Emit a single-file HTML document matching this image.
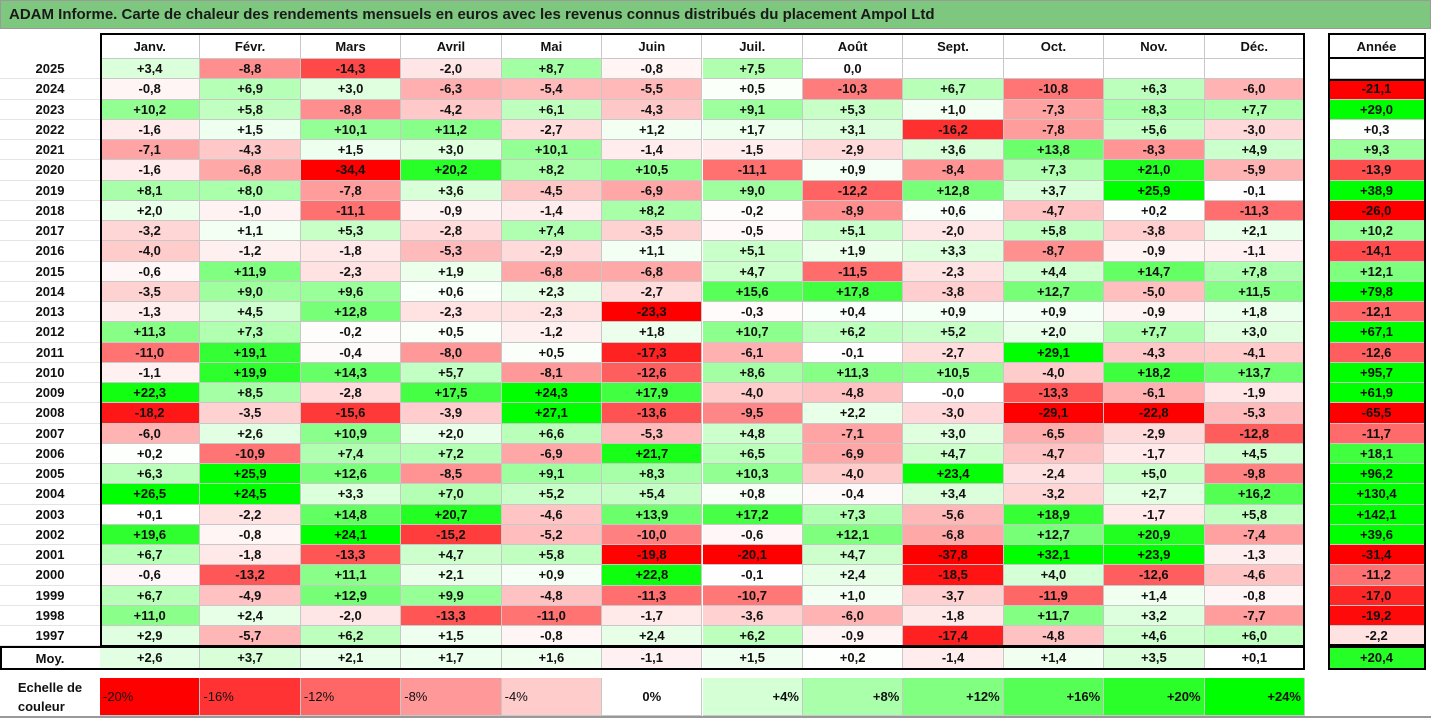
<!DOCTYPE html>
<html><head><meta charset="utf-8">
<style>
body{margin:0;width:1431px;height:718px;background:#fff;position:relative;overflow:hidden;font-family:"Liberation Sans",sans-serif;}
.a{position:absolute;box-sizing:border-box;}
.c{display:flex;align-items:center;justify-content:center;font-weight:bold;font-size:13px;color:#111;border-right:1px solid #c8c8c8;border-bottom:1px solid #c8c8c8;}
</style></head><body>
<div class="a" style="left:0;top:0;width:1431px;height:29px;background:#7dc77e;border:1px solid #9a9a9a;font-weight:bold;font-size:15px;color:#1a1a1a;padding:5px 0 0 8px;">ADAM Informe. Carte de chaleur des rendements mensuels en euros avec les revenus connus distribués du placement Ampol Ltd</div>
<div id="root"></div>
<script>
const months=["Janv.","Févr.","Mars","Avril","Mai","Juin","Juil.","Août","Sept.","Oct.","Nov.","Déc."];
const years=["2025","2024","2023","2022","2021","2020","2019","2018","2017","2016","2015","2014","2013","2012","2011","2010","2009","2008","2007","2006","2005","2004","2003","2002","2001","2000","1999","1998","1997"];
const monthly=[
[3.4,-8.8,-14.3,-2.0,8.7,-0.8,7.5,0.0,null,null,null,null],
[-0.8,6.9,3.0,-6.3,-5.4,-5.5,0.5,-10.3,6.7,-10.8,6.3,-6.0],
[10.2,5.8,-8.8,-4.2,6.1,-4.3,9.1,5.3,1.0,-7.3,8.3,7.7],
[-1.6,1.5,10.1,11.2,-2.7,1.2,1.7,3.1,-16.2,-7.8,5.6,-3.0],
[-7.1,-4.3,1.5,3.0,10.1,-1.4,-1.5,-2.9,3.6,13.8,-8.3,4.9],
[-1.6,-6.8,-34.4,20.2,8.2,10.5,-11.1,0.9,-8.4,7.3,21.0,-5.9],
[8.1,8.0,-7.8,3.6,-4.5,-6.9,9.0,-12.2,12.8,3.7,25.9,-0.1],
[2.0,-1.0,-11.1,-0.9,-1.4,8.2,-0.2,-8.9,0.6,-4.7,0.2,-11.3],
[-3.2,1.1,5.3,-2.8,7.4,-3.5,-0.5,5.1,-2.0,5.8,-3.8,2.1],
[-4.0,-1.2,-1.8,-5.3,-2.9,1.1,5.1,1.9,3.3,-8.7,-0.9,-1.1],
[-0.6,11.9,-2.3,1.9,-6.8,-6.8,4.7,-11.5,-2.3,4.4,14.7,7.8],
[-3.5,9.0,9.6,0.6,2.3,-2.7,15.6,17.8,-3.8,12.7,-5.0,11.5],
[-1.3,4.5,12.8,-2.3,-2.3,-23.3,-0.3,0.4,0.9,0.9,-0.9,1.8],
[11.3,7.3,-0.2,0.5,-1.2,1.8,10.7,6.2,5.2,2.0,7.7,3.0],
[-11.0,19.1,-0.4,-8.0,0.5,-17.3,-6.1,-0.1,-2.7,29.1,-4.3,-4.1],
[-1.1,19.9,14.3,5.7,-8.1,-12.6,8.6,11.3,10.5,-4.0,18.2,13.7],
[22.3,8.5,-2.8,17.5,24.3,17.9,-4.0,-4.8,-0.0,-13.3,-6.1,-1.9],
[-18.2,-3.5,-15.6,-3.9,27.1,-13.6,-9.5,2.2,-3.0,-29.1,-22.8,-5.3],
[-6.0,2.6,10.9,2.0,6.6,-5.3,4.8,-7.1,3.0,-6.5,-2.9,-12.8],
[0.2,-10.9,7.4,7.2,-6.9,21.7,6.5,-6.9,4.7,-4.7,-1.7,4.5],
[6.3,25.9,12.6,-8.5,9.1,8.3,10.3,-4.0,23.4,-2.4,5.0,-9.8],
[26.5,24.5,3.3,7.0,5.2,5.4,0.8,-0.4,3.4,-3.2,2.7,16.2],
[0.1,-2.2,14.8,20.7,-4.6,13.9,17.2,7.3,-5.6,18.9,-1.7,5.8],
[19.6,-0.8,24.1,-15.2,-5.2,-10.0,-0.6,12.1,-6.8,12.7,20.9,-7.4],
[6.7,-1.8,-13.3,4.7,5.8,-19.8,-20.1,4.7,-37.8,32.1,23.9,-1.3],
[-0.6,-13.2,11.1,2.1,0.9,22.8,-0.1,2.4,-18.5,4.0,-12.6,-4.6],
[6.7,-4.9,12.9,9.9,-4.8,-11.3,-10.7,1.0,-3.7,-11.9,1.4,-0.8],
[11.0,2.4,-2.0,-13.3,-11.0,-1.7,-3.6,-6.0,-1.8,11.7,3.2,-7.7],
[2.9,-5.7,6.2,1.5,-0.8,2.4,6.2,-0.9,-17.4,-4.8,4.6,6.0]];
const annual=[null,-21.1,29.0,0.3,9.3,-13.9,38.9,-26.0,10.2,-14.1,12.1,79.8,-12.1,67.1,-12.6,95.7,61.9,-65.5,-11.7,18.1,96.2,130.4,142.1,39.6,-31.4,-11.2,-17.0,-19.2,-2.2];
const averages=[2.6,3.7,2.1,1.7,1.6,-1.1,1.5,0.2,-1.4,1.4,3.5,0.1];
const averageYear=20.4;
const scaleLabels=["-20%","-16%","-12%","-8%","-4%","0%","+4%","+8%","+12%","+16%","+20%","+24%"];
const scaleValues=[-20,-16,-12,-8,-4,0,4,8,12,16,20,24];

const X0=100,CW=(1305-100)/12,ROW0=59,RH=20.25,AX=1328,AW=98;
const colX=i=>X0+i*CW, rowY=r=>ROW0+r*RH;
function color(v){
  if(v===null)return '#fff';
  if(v<0){const t=Math.min(1,-v/20);const g=Math.round(255*(1-t));return `rgb(255,${g},${g})`;}
  const t=Math.min(1,v/24);const g=Math.round(255*(1-t));return `rgb(${g},255,${g})`;
}
function fmt(v){if(v===null)return '';const s=Math.abs(v).toFixed(1).replace('.',',');
  if(v>0)return '+'+s; if(v<0||Object.is(v,-0))return '-'+s; return s;}
const root=document.getElementById('root');
function box(x,y,w,h,cls,style,txt){const d=document.createElement('div');d.className='a '+(cls||'');
  d.style.cssText=`left:${x}px;top:${y}px;width:${w}px;height:${h}px;`+(style||'');if(txt!==undefined)d.textContent=txt;root.appendChild(d);return d;}
months.forEach((m,i)=>{const d=box(colX(i),34,CW,25,'c','',m);

});
{const d=box(AX,34,AW,25,'c','',"Année");

}
years.forEach((y,r)=>{
  const l=box(0,rowY(r),X0,RH,'c','border-right:none;border-bottom:1px solid #e4e4e4;',y);
  
  
  monthly[r].forEach((v,i)=>{const d=box(colX(i),rowY(r),CW,RH,'c','background:'+color(v)+';',fmt(v));
    
    });
  const a=box(AX,rowY(r),AW,RH,'c','background:'+color(annual[r])+';',fmt(annual[r]));
  
  
});
const MY=Math.round(rowY(years.length))+1;
{const d=box(0,MY,X0,22,'c','border:none;',"Moy.");

}
averages.forEach((v,i)=>{const d=box(colX(i),MY,CW,22,'c','background:'+color(v)+';',fmt(v));

});
{const d=box(AX,MY,AW,22,'c','background:'+color(averageYear)+';',fmt(averageYear));

}
[[X0,33,1305-X0,MY-33],[0,MY-1,1305,24],[AX,33,AW,26],[AX,rowY(1),AW,MY-rowY(1)-1],[AX,MY-1,AW,24]].forEach(b=>{
 const d=box(b[0],b[1],b[2],b[3],'','border:2px solid #000;pointer-events:none;');
 
 });
{const d=box(AX,rowY(0),AW,RH,'','border-left:2px solid #000;border-right:2px solid #000;');

}
{const d=box(0,677,X0,40,'c','border:none;flex-direction:column;line-height:19px;');d.innerHTML='Echelle de<br>couleur';

}
scaleValues.forEach((v,i)=>{const al=v<0?'flex-start':(v===0?'center':'flex-end');
 const d=box(colX(i),678,CW,38,'c','justify-content:'+al+';padding:0 3px;font-weight:'+(v<0?'normal':'bold')+';background:'+color(v)+';',scaleLabels[i]);
 
 });
{const d=box(0,716,1431,2,'','background:#999;');

}
</script>
</body></html>
